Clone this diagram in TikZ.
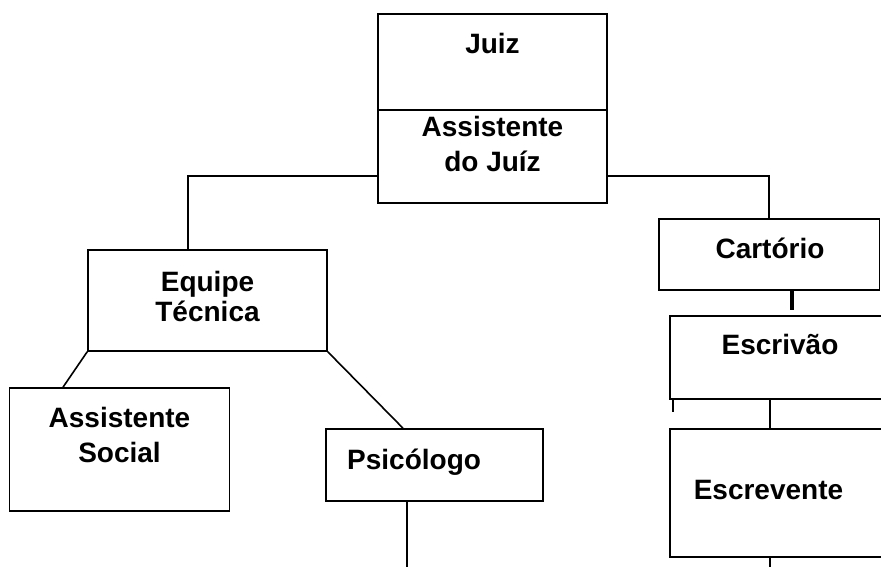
\documentclass[tikz,border=0pt]{standalone}
\usepackage{fontspec}
\setmainfont{Liberation Sans}
\usepackage{tikz}

\begin{document}
\begin{tikzpicture}[x=1pt,y=-1pt]
        \tikzset{box/.style = {shape=rectangle,draw,line width=1.6pt,inner sep=0pt}};
        \tikzset{lbl/.style = {inner sep=0pt,align=center,font=\bfseries\fontsize{28}{35}\selectfont}};
        \tikzset{edge/.style = {line width=1.6pt}};
        \useasboundingbox (0,0) rectangle (881,567);
        \node[box,minimum width=229pt,minimum height=96pt] (juiz) at (492.5,62) {};
        \node[box,minimum width=229pt,minimum height=93pt] (asst) at (492.5,156.5) {};
        \node[box,minimum width=239pt,minimum height=101pt] (equipe) at (207.5,300.5) {};
        \node[box,minimum width=220pt,minimum height=123pt] (social) at (119.5,449.5) {};
        \node[box,minimum width=217pt,minimum height=72pt] (psico) at (434.5,465) {};
        \node[box,minimum width=220.5pt,minimum height=71pt] (cartorio) at (769.25,254.5) {};
        \node[box,minimum width=220pt,minimum height=83pt] (escrivao) at (780,357.5) {};
        \node[box,minimum width=220pt,minimum height=128pt] (escrevente) at (780,493) {};
        \node[lbl] (tjuiz) at (492.5,43) {Juiz};
        \node[lbl] (tasst) at (492.5,144) {Assistente\\do Juíz};
        \node[lbl,font=\bfseries\fontsize{28}{30}\selectfont] (tequipe) at (207.5,296.7) {Equipe\\Técnica};
        \node[lbl] (tsocial) at (119.5,434.5) {Assistente\\Social};
        \node[lbl,anchor=west] (tpsico) at (347,462) {Psicólogo};
        \node[lbl] (tcartorio) at (770,248.5) {Cartório};
        \node[lbl] (tescrivao) at (780,344) {Escrivão};
        \node[lbl] (tescrevente) at (768.5,490.5) {Escrevente};
        \coordinate (psicoend) at (407,567);
        \coordinate (cartend) at (792,310);
        \coordinate (escrend) at (673,412);
        \coordinate (escrevend) at (770,567);
        \draw[edge] ([yshift=-19.5pt]asst.west) -| ([xshift=-19.5pt]equipe.north);
        \draw[edge] ([yshift=-19.5pt]asst.east) -| (cartorio.north);
        \draw[edge] (equipe.south west) -- ([xshift=-56.5pt]social.north);
        \draw[edge] (equipe.south east) -- ([xshift=-31.5pt]psico.north);
        \draw[edge] ([xshift=-27.5pt]psico.south) -- (psicoend);
        \draw[edge,line width=3.5pt] (cartorio.south -| cartend) -- (cartend);
        \draw[edge,line width=2pt] (escrivao.south -| escrend) -- (escrend);
        \draw[edge] ([xshift=-10pt]escrivao.south) -- ([xshift=-10pt]escrevente.north);
        \draw[edge] ([xshift=-10pt]escrevente.south) -- (escrevend);
    \end{tikzpicture}
\end{document}
